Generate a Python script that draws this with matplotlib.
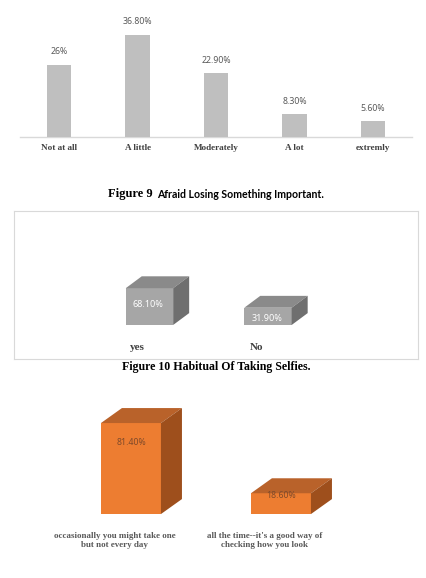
import numpy as np
import matplotlib
matplotlib.use('Agg')
import matplotlib.pyplot as plt
from matplotlib.patches import Polygon

# chart 1 data
c1_cats = ['Not at all', 'A little', 'Moderately', 'A lot', 'extremly']
c1_vals = [26, 36.8, 22.9, 8.3, 5.6]
c1_labels = ['26%', '36.80%', '22.90%', '8.30%', '5.60%']

# chart 2 data
c2_cats = ['yes', 'No']
c2_vals = [68.1, 31.9]
c2_labels = ['68.10%', '31.90%']

# chart 3 data
c3_cats = ['occasionally you might take one\nbut not every day',
           "all the time--it's a good way of\nchecking how you look"]
c3_vals = [81.4, 18.6]
c3_labels = ['81.40%', '18.60%']

W, H = 426, 578
fig = plt.figure(figsize=(W / 100, H / 100), dpi=100)
fig.patch.set_facecolor('white')

SERIF = 'Liberation Serif'
SANS = 'Noto Sans'


def px_axes(x0, y0, x1, y1):
    return fig.add_axes([x0 / W, 1 - y1 / H, (x1 - x0) / W, (y1 - y0) / H])


def box3d(ax, x, h, w, dx, dy, front, top, side):
    # front face via bar, top and side faces as polygons
    ax.bar(x, h, width=w, color=front, zorder=3)
    l, r = x - w / 2, x + w / 2
    ax.add_patch(Polygon([(l, h), (l + dx, h + dy), (r + dx, h + dy), (r, h)],
                         closed=True, color=top, zorder=3, lw=0))
    ax.add_patch(Polygon([(r, 0), (r, h), (r + dx, h + dy), (r + dx, dy)],
                         closed=True, color=side, zorder=3, lw=0))


# ---- chart 1 : flat bars
ax1 = px_axes(20, 12, 412, 137)
x1 = np.arange(len(c1_cats))
ax1.bar(x1, c1_vals, width=0.31, color='#BFBFBF', zorder=3)
ax1.set_xlim(-0.5, 4.5)
ax1.set_ylim(0, 45)
for s in ['top', 'right', 'left']:
    ax1.spines[s].set_visible(False)
ax1.spines['bottom'].set_color('#D9D9D9')
ax1.spines['bottom'].set_linewidth(1.0)
ax1.set_yticks([])
ax1.set_xticks(x1)
ax1.set_xticklabels(c1_cats, family=SERIF, fontweight='bold', fontsize=6.6, color='#404040')
ax1.tick_params(axis='x', length=0, pad=5)
for xi, v, lab in zip(x1, c1_vals, c1_labels):
    ax1.text(xi, v + 3, lab, ha='center', va='bottom', fontsize=6.3,
             family=SANS, color='#595959')

# ---- caption 9
fig.text(153 / W, 1 - 194 / H, 'Figure 9', ha='right', va='center',
         family=SERIF, fontweight='bold', fontsize=9, color='black')
fig.text(157 / W, 1 - 194 / H, 'Afraid Losing Something Important.', ha='left', va='center',
         family='Lato', fontweight='bold', fontsize=7.6, color='black')

# ---- chart 2 : grey 3d boxes in a bordered frame
ax2 = px_axes(14, 211, 418, 359)
x2 = np.arange(len(c2_cats))
for xi, v in zip(x2, c2_vals):
    box3d(ax2, xi, v, 0.4, 0.135, 22, '#A6A6A6', '#8A8A8A', '#6F6F6F')
ax2.set_xlim(-1.143, 2.266)
ax2.set_ylim(-63, 211)
ax2.set_xticks([])
ax2.set_yticks([])
for s in ax2.spines.values():
    s.set_color('#D9D9D9')
    s.set_linewidth(0.8)
c2_lab_frac = [0.57, 0.35]
for xi, v, lab, fr in zip(x2, c2_vals, c2_labels, c2_lab_frac):
    ax2.text(xi - 0.01, v * fr, lab, ha='center', va='center', fontsize=6.5,
             family=SANS, fontweight='bold', color='white', zorder=5)
    ax2.text(xi - 0.1, -42.6, c2_cats[xi], ha='center', va='center', fontsize=8,
             family=SERIF, fontweight='bold', color='#404040')

# ---- caption 10
fig.text(216 / W, 1 - 367 / H, 'Figure 10 Habitual Of Taking Selfies.', ha='center', va='center',
         family=SERIF, fontweight='bold', fontsize=8.6, color='black')

# ---- chart 3 : orange 3d boxes
ax3 = px_axes(0, 380, 426, 578)
x3 = np.arange(len(c3_cats))
for xi, v in zip(x3, c3_vals):
    box3d(ax3, xi, v, 0.4, 0.14, 13.4, '#ED7D31', '#B9622A', '#9E4F1C')
ax3.set_xlim(-0.873, 1.967)
ax3.set_ylim(-57.2, 119.9)
ax3.axis('off')
c3_lab_drop = [17, 1.6]
for xi, v, lab, d in zip(x3, c3_vals, c3_labels, c3_lab_drop):
    ax3.text(xi, v - d, lab, ha='center', va='center', fontsize=6.3,
             family=SANS, color='#7F4A2A', zorder=5)
    ax3.text(xi - 0.11, -24, c3_cats[xi], ha='center', va='center', fontsize=6.5,
             family=SERIF, fontweight='bold', color='#595959', linespacing=1.15)

fig.savefig('out.png', dpi=100)
